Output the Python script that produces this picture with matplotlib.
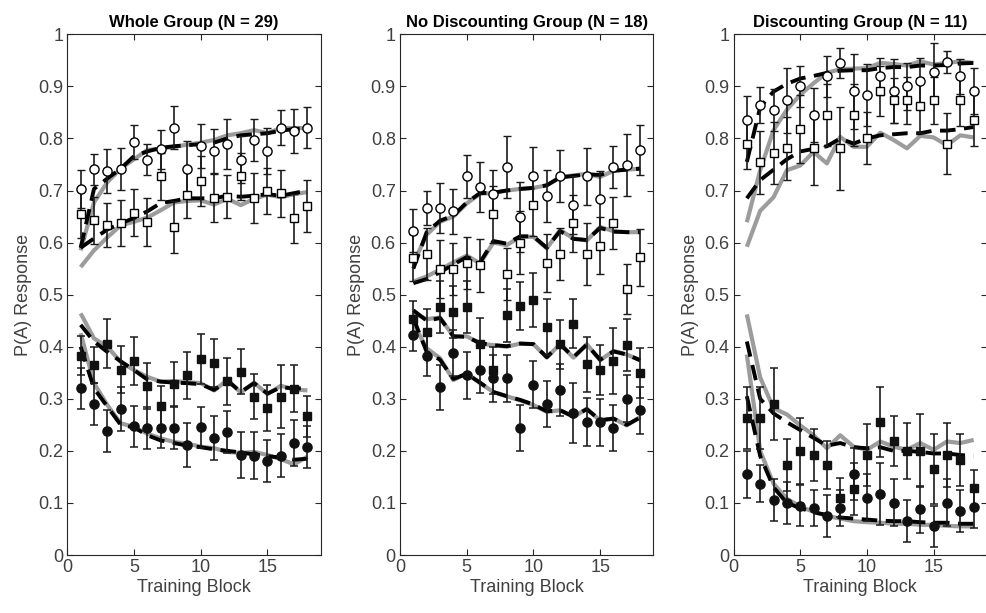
import matplotlib
matplotlib.use('Agg')
import matplotlib.pyplot as plt

plt.rcParams['font.family'] = ['Liberation Sans', 'DejaVu Sans']

blocks = list(range(1, 19))
titles = ['Whole Group (N = 29)', 'No Discounting Group (N = 18)', 'Discounting Group (N = 11)']

# ---- Whole group ----
p1_oc = [0.703, 0.741, 0.737, 0.741, 0.793, 0.759, 0.779, 0.821, 0.741, 0.786, 0.776, 0.790, 0.759, 0.797, 0.776, 0.821, 0.814, 0.821]
p1_oc_err = [0.037, 0.030, 0.042, 0.040, 0.033, 0.030, 0.038, 0.042, 0.054, 0.042, 0.042, 0.048, 0.045, 0.040, 0.045, 0.034, 0.042, 0.040]
p1_os = [0.654, 0.643, 0.634, 0.637, 0.657, 0.640, 0.727, 0.630, 0.692, 0.719, 0.685, 0.688, 0.727, 0.685, 0.699, 0.695, 0.647, 0.671]
p1_os_err = [0.045, 0.045, 0.042, 0.044, 0.045, 0.046, 0.045, 0.050, 0.045, 0.048, 0.046, 0.041, 0.045, 0.048, 0.044, 0.045, 0.047, 0.050]
p1_fs = [0.383, 0.365, 0.406, 0.356, 0.372, 0.324, 0.286, 0.328, 0.345, 0.376, 0.369, 0.334, 0.352, 0.304, 0.282, 0.304, 0.319, 0.266]
p1_fs_err = [0.037, 0.035, 0.047, 0.045, 0.046, 0.044, 0.038, 0.042, 0.045, 0.048, 0.046, 0.045, 0.043, 0.043, 0.044, 0.061, 0.045, 0.040]
p1_fc = [0.320, 0.290, 0.238, 0.280, 0.247, 0.244, 0.244, 0.244, 0.211, 0.245, 0.224, 0.236, 0.192, 0.191, 0.181, 0.191, 0.215, 0.207]
p1_fc_err = [0.040, 0.041, 0.040, 0.042, 0.040, 0.040, 0.038, 0.040, 0.042, 0.040, 0.042, 0.040, 0.045, 0.045, 0.040, 0.042, 0.045, 0.040]
p1_oc_gray = [0.585, 0.677, 0.716, 0.742, 0.760, 0.778, 0.780, 0.784, 0.788, 0.792, 0.797, 0.806, 0.810, 0.816, 0.810, 0.820, 0.820, 0.820]
p1_oc_dash = [0.590, 0.703, 0.723, 0.742, 0.766, 0.775, 0.782, 0.785, 0.787, 0.789, 0.792, 0.800, 0.806, 0.808, 0.810, 0.815, 0.818, 0.820]
p1_os_gray = [0.553, 0.585, 0.610, 0.633, 0.640, 0.648, 0.662, 0.677, 0.680, 0.681, 0.673, 0.684, 0.672, 0.684, 0.692, 0.687, 0.693, 0.697]
p1_os_dash = [0.590, 0.608, 0.625, 0.637, 0.647, 0.660, 0.676, 0.680, 0.685, 0.685, 0.685, 0.690, 0.688, 0.690, 0.693, 0.690, 0.695, 0.700]
p1_fs_gray = [0.464, 0.416, 0.400, 0.371, 0.355, 0.342, 0.333, 0.334, 0.332, 0.330, 0.316, 0.336, 0.312, 0.331, 0.309, 0.325, 0.318, 0.316]
p1_fs_dash = [0.442, 0.410, 0.390, 0.372, 0.355, 0.337, 0.333, 0.331, 0.330, 0.328, 0.317, 0.335, 0.313, 0.330, 0.310, 0.322, 0.320, 0.320]
p1_fc_gray = [0.426, 0.330, 0.288, 0.253, 0.246, 0.233, 0.224, 0.217, 0.214, 0.208, 0.205, 0.198, 0.196, 0.198, 0.192, 0.184, 0.174, 0.189]
p1_fc_dash = [0.400, 0.320, 0.285, 0.250, 0.245, 0.230, 0.220, 0.215, 0.210, 0.207, 0.203, 0.200, 0.197, 0.193, 0.190, 0.187, 0.183, 0.185]

# ---- No discounting group ----
p2_oc = [0.623, 0.666, 0.666, 0.660, 0.727, 0.706, 0.694, 0.745, 0.649, 0.727, 0.689, 0.727, 0.672, 0.727, 0.683, 0.745, 0.749, 0.778]
p2_oc_err = [0.042, 0.033, 0.048, 0.043, 0.041, 0.048, 0.045, 0.059, 0.067, 0.056, 0.050, 0.050, 0.055, 0.055, 0.055, 0.040, 0.060, 0.048]
p2_os = [0.571, 0.578, 0.549, 0.549, 0.560, 0.556, 0.654, 0.539, 0.600, 0.673, 0.561, 0.578, 0.637, 0.578, 0.594, 0.638, 0.510, 0.572]
p2_os_err = [0.045, 0.050, 0.056, 0.050, 0.050, 0.050, 0.055, 0.050, 0.060, 0.060, 0.055, 0.050, 0.055, 0.060, 0.055, 0.050, 0.048, 0.055]
p2_fs = [0.454, 0.428, 0.477, 0.467, 0.477, 0.405, 0.355, 0.460, 0.478, 0.489, 0.438, 0.405, 0.444, 0.366, 0.356, 0.372, 0.404, 0.349]
p2_fs_err = [0.034, 0.044, 0.050, 0.050, 0.050, 0.050, 0.045, 0.050, 0.046, 0.052, 0.054, 0.047, 0.047, 0.052, 0.048, 0.063, 0.050, 0.048]
p2_fc = [0.422, 0.382, 0.322, 0.388, 0.345, 0.356, 0.339, 0.339, 0.244, 0.327, 0.290, 0.316, 0.273, 0.255, 0.255, 0.244, 0.300, 0.278]
p2_fc_err = [0.030, 0.038, 0.043, 0.045, 0.045, 0.045, 0.045, 0.045, 0.044, 0.045, 0.045, 0.050, 0.057, 0.046, 0.045, 0.045, 0.045, 0.045]
p2_oc_gray = [0.560, 0.615, 0.640, 0.650, 0.675, 0.694, 0.695, 0.700, 0.703, 0.705, 0.710, 0.726, 0.729, 0.732, 0.726, 0.738, 0.740, 0.742]
p2_oc_dash = [0.550, 0.620, 0.642, 0.652, 0.677, 0.695, 0.696, 0.700, 0.703, 0.705, 0.710, 0.725, 0.728, 0.731, 0.730, 0.738, 0.740, 0.742]
p2_os_gray = [0.525, 0.535, 0.548, 0.562, 0.575, 0.560, 0.600, 0.595, 0.611, 0.611, 0.589, 0.624, 0.608, 0.604, 0.630, 0.622, 0.620, 0.620]
p2_os_dash = [0.522, 0.530, 0.543, 0.558, 0.572, 0.562, 0.603, 0.598, 0.612, 0.612, 0.590, 0.622, 0.607, 0.605, 0.628, 0.621, 0.620, 0.620]
p2_fs_gray = [0.465, 0.453, 0.456, 0.420, 0.420, 0.406, 0.403, 0.400, 0.406, 0.405, 0.379, 0.405, 0.379, 0.405, 0.374, 0.392, 0.385, 0.374]
p2_fs_dash = [0.470, 0.450, 0.455, 0.420, 0.419, 0.407, 0.403, 0.401, 0.406, 0.405, 0.380, 0.405, 0.380, 0.404, 0.375, 0.391, 0.385, 0.374]
p2_fc_gray = [0.445, 0.397, 0.378, 0.336, 0.349, 0.330, 0.313, 0.305, 0.297, 0.288, 0.275, 0.278, 0.265, 0.281, 0.258, 0.262, 0.249, 0.265]
p2_fc_dash = [0.455, 0.390, 0.375, 0.338, 0.348, 0.331, 0.313, 0.305, 0.298, 0.289, 0.276, 0.278, 0.266, 0.280, 0.259, 0.262, 0.250, 0.264]

# ---- Discounting group ----
p3_oc = [0.835, 0.864, 0.855, 0.873, 0.900, 0.845, 0.919, 0.945, 0.891, 0.883, 0.919, 0.891, 0.900, 0.910, 0.928, 0.946, 0.919, 0.891]
p3_oc_err = [0.046, 0.034, 0.040, 0.062, 0.039, 0.052, 0.040, 0.029, 0.072, 0.060, 0.035, 0.062, 0.045, 0.044, 0.055, 0.021, 0.034, 0.045]
p3_os = [0.790, 0.754, 0.772, 0.781, 0.818, 0.781, 0.845, 0.781, 0.845, 0.800, 0.891, 0.873, 0.873, 0.863, 0.873, 0.790, 0.873, 0.836]
p3_os_err = [0.048, 0.060, 0.060, 0.060, 0.065, 0.070, 0.060, 0.080, 0.060, 0.050, 0.048, 0.043, 0.045, 0.053, 0.045, 0.058, 0.050, 0.050]
p3_fs = [0.263, 0.263, 0.290, 0.173, 0.200, 0.192, 0.173, 0.110, 0.127, 0.192, 0.256, 0.218, 0.200, 0.200, 0.165, 0.192, 0.182, 0.128]
p3_fs_err = [0.060, 0.060, 0.070, 0.050, 0.064, 0.050, 0.046, 0.037, 0.050, 0.060, 0.067, 0.048, 0.054, 0.070, 0.067, 0.062, 0.050, 0.036]
p3_fc = [0.155, 0.137, 0.105, 0.100, 0.095, 0.090, 0.075, 0.090, 0.155, 0.110, 0.117, 0.100, 0.065, 0.088, 0.055, 0.100, 0.085, 0.092]
p3_fc_err = [0.045, 0.035, 0.040, 0.040, 0.040, 0.035, 0.040, 0.035, 0.050, 0.045, 0.060, 0.045, 0.040, 0.045, 0.040, 0.045, 0.040, 0.040]
p3_oc_gray = [0.639, 0.739, 0.816, 0.855, 0.884, 0.906, 0.926, 0.933, 0.934, 0.935, 0.945, 0.943, 0.940, 0.948, 0.942, 0.945, 0.948, 0.945]
p3_oc_dash = [0.755, 0.860, 0.890, 0.905, 0.915, 0.920, 0.926, 0.930, 0.931, 0.931, 0.935, 0.937, 0.937, 0.940, 0.940, 0.941, 0.944, 0.945]
p3_os_gray = [0.592, 0.661, 0.687, 0.739, 0.748, 0.774, 0.752, 0.803, 0.784, 0.784, 0.811, 0.797, 0.781, 0.805, 0.802, 0.787, 0.806, 0.802]
p3_os_dash = [0.685, 0.720, 0.740, 0.760, 0.775, 0.780, 0.785, 0.800, 0.790, 0.800, 0.806, 0.808, 0.810, 0.810, 0.815, 0.815, 0.818, 0.822]
p3_fs_gray = [0.462, 0.341, 0.282, 0.270, 0.249, 0.230, 0.205, 0.230, 0.208, 0.202, 0.218, 0.208, 0.202, 0.215, 0.202, 0.218, 0.215, 0.221]
p3_fs_dash = [0.410, 0.300, 0.272, 0.255, 0.240, 0.225, 0.210, 0.215, 0.207, 0.205, 0.207, 0.200, 0.200, 0.198, 0.195, 0.195, 0.192, 0.190]
p3_fc_gray = [0.385, 0.200, 0.137, 0.108, 0.093, 0.083, 0.075, 0.070, 0.065, 0.063, 0.062, 0.060, 0.060, 0.058, 0.058, 0.056, 0.055, 0.055]
p3_fc_dash = [0.305, 0.190, 0.130, 0.100, 0.090, 0.082, 0.077, 0.072, 0.070, 0.068, 0.066, 0.065, 0.065, 0.063, 0.062, 0.062, 0.060, 0.060]

panels = [
    (p1_oc, p1_oc_err, p1_os, p1_os_err, p1_fs, p1_fs_err, p1_fc, p1_fc_err,
     [p1_oc_gray, p1_os_gray, p1_fs_gray, p1_fc_gray], [p1_oc_dash, p1_os_dash, p1_fs_dash, p1_fc_dash]),
    (p2_oc, p2_oc_err, p2_os, p2_os_err, p2_fs, p2_fs_err, p2_fc, p2_fc_err,
     [p2_oc_gray, p2_os_gray, p2_fs_gray, p2_fc_gray], [p2_oc_dash, p2_os_dash, p2_fs_dash, p2_fc_dash]),
    (p3_oc, p3_oc_err, p3_os, p3_os_err, p3_fs, p3_fs_err, p3_fc, p3_fc_err,
     [p3_oc_gray, p3_os_gray, p3_fs_gray, p3_fc_gray], [p3_oc_dash, p3_os_dash, p3_fs_dash, p3_fc_dash]),
]

W, H = 987, 613
fig = plt.figure(figsize=(W / 100, H / 100), dpi=100)
lefts = [67.3, 400.0, 733.5]
txt = '#404040'

for i, (oc, oce, os_, ose, fs, fse, fc, fce, grays, dashes) in enumerate(panels):
    ax = fig.add_axes([lefts[i] / W, (H - 555) / H, 253.5 / W, 520.7 / H])

    for g in grays:
        ax.plot(blocks, g, color='#9c9c9c', lw=3.0, zorder=2, solid_capstyle='butt')
    for d in dashes:
        ax.plot(blocks, d, color='black', lw=2.8, ls=(0, (4, 2.2)), zorder=3)

    eb = dict(color='black', ecolor='#1a1a1a', elinewidth=1.2, capsize=2.6, capthick=1.1, ls='none', zorder=4)
    ax.errorbar(blocks, oc, yerr=oce, fmt='o', ms=6.6, mfc='white', mec='black', mew=1.0, **eb)
    ax.errorbar(blocks, os_, yerr=ose, fmt='s', ms=5.3, mfc='white', mec='black', mew=1.0, **eb)
    ax.errorbar(blocks, fs, yerr=fse, fmt='s', ms=5.6, mfc='#111111', mec='#111111', **eb)
    ax.errorbar(blocks, fc, yerr=fce, fmt='o', ms=6.6, mfc='#111111', mec='#111111', **eb)

    ax.set_xlim(0, 19)
    ax.set_ylim(0, 1)
    ax.set_xticks([0, 5, 10, 15])
    ax.set_yticks([k / 10 for k in range(11)])
    ax.set_yticklabels(['0', '0.1', '0.2', '0.3', '0.4', '0.5', '0.6', '0.7', '0.8', '0.9', '1'])
    ax.tick_params(direction='in', top=True, right=True, length=4, width=0.8,
                   labelsize=13, colors='#262626', labelcolor=txt, pad=3)
    for s in ax.spines.values():
        s.set_color('#262626')
        s.set_linewidth(0.8)
    ax.set_xlabel('Training Block', fontsize=13, color=txt, labelpad=2)
    ax.set_ylabel('P(A) Response', fontsize=13, color=txt, labelpad=4)
    ax.set_title(titles[i], fontsize=12, fontweight='bold', pad=5)

fig.savefig('out.png', dpi=100)
